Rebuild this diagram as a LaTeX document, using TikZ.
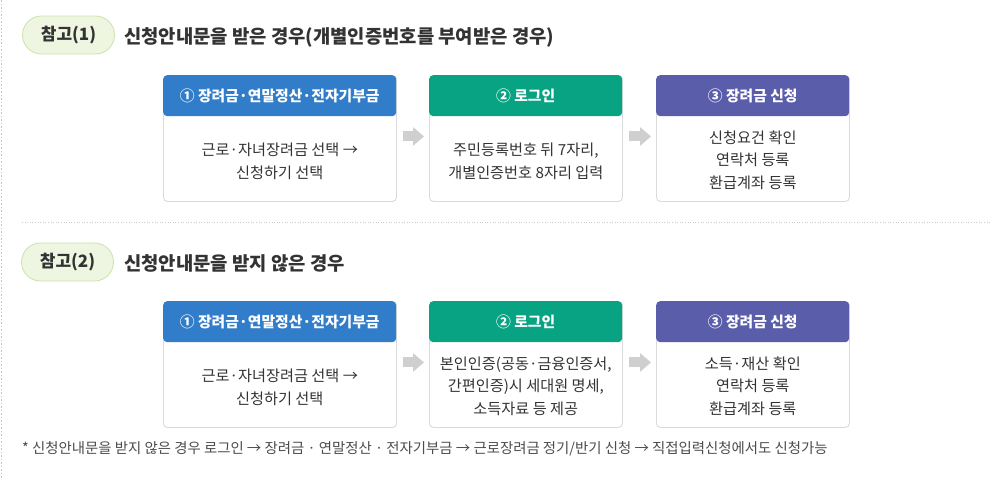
\documentclass[tikz,border=0pt]{standalone}
\usepackage{fontspec}
\setmainfont{Noto Sans CJK KR}
\usetikzlibrary{arrows.meta,calc}
\definecolor{hblue}{HTML}{317DC9}
\definecolor{hgreen}{HTML}{08A382}
\definecolor{hpurple}{HTML}{5A5DAA}
\definecolor{pillfill}{HTML}{EEF6E2}
\definecolor{pillline}{HTML}{CBE3A6}
\definecolor{txt}{HTML}{333333}
\definecolor{frameline}{HTML}{DADADA}
\definecolor{arrowgray}{HTML}{CFCFCF}
\tikzset{
  pill/.style={draw=pillline, fill=pillfill, line width=0.8pt, rounded corners=19pt,
    minimum width=92pt, minimum height=38pt, inner sep=0pt,
    font=\fontsize{17}{17}\selectfont\bfseries, text=txt},
  title/.style={anchor=west, inner sep=0pt, font=\fontsize{18.8}{18.8}\selectfont\bfseries, text=txt},
  frame/.style={draw=frameline, line width=0.9pt, fill=white, rounded corners=4pt,
    minimum height=126pt, inner sep=0pt, anchor=north west},
  header/.style={rounded corners=4pt, minimum height=41pt, inner sep=0pt, anchor=north west,
    text=white, font=\fontsize{14.8}{14.8}\selectfont\bfseries},
  bodytext/.style={align=center, inner sep=0pt, text=txt, font=\fontsize{15.2}{22.8}\selectfont},
  flow/.style={arrowgray, line width=10pt, -{Triangle[length=11pt,width=18pt]}, shorten <=6pt, shorten >=5pt},
}
\begin{document}
\begin{tikzpicture}[x=1pt,y=-1pt]
\useasboundingbox (0,0) rectangle (1001,479);
\fill[white] (0,0) rectangle (1001,479);
% left dashed edge
\draw[gray!45, line width=0.6pt, dash pattern=on 1.5pt off 2pt] (1,0) -- (1,479);
% separator
\draw[gray!40, line width=0.9pt, dash pattern=on 1pt off 1.6pt] (22,222) -- (990,222);

% ---------- section 1 ----------
\node[pill] (p1) at (68.5,35) {참고(1)};
\node[title] (t1) at (124,37) {신청안내문을 받은 경우(개별인증번호를 부여받은 경우)};

\node[frame, minimum width=233pt] (fa1) at (163,75) {};
\node[frame, minimum width=193pt] (fa2) at (429,75) {};
\node[frame, minimum width=193pt] (fa3) at (656,75) {};
\node[header, fill=hblue, minimum width=233pt] (ha1) at (163,75) {① 장려금·연말정산·전자기부금};
\node[header, fill=hgreen, minimum width=193pt] (ha2) at (429,75) {② 로그인};
\node[header, fill=hpurple, minimum width=193pt] (ha3) at (656,75) {③ 장려금 신청};
\node[bodytext] (ba1) at ($(ha1.south)!0.5!(fa1.south)+(0,2)$) {근로·자녀장려금 선택 →\\신청하기 선택};
\node[bodytext] (ba2) at ($(ha2.south)!0.5!(fa2.south)+(0,2)$) {주민등록번호 뒤 7자리,\\개별인증번호 8자리 입력};
\node[bodytext] (ba3) at ($(ha3.south)!0.5!(fa3.south)+(0,1)$) {신청요건 확인\\연락처 등록\\환급계좌 등록};
\draw[flow] ([yshift=2pt]fa1.east) -- ([yshift=2pt]fa2.west);
\draw[flow] ([yshift=2pt]fa2.east) -- ([yshift=2pt]fa3.west);

% ---------- section 2 ----------
\node[pill] (p2) at (67.5,262) {참고(2)};
\node[title] (t2) at (124,263) {신청안내문을 받지 않은 경우};

\node[frame, minimum width=233pt] (fb1) at (163,301) {};
\node[frame, minimum width=193pt] (fb2) at (429,301) {};
\node[frame, minimum width=193pt] (fb3) at (656,301) {};
\node[header, fill=hblue, minimum width=233pt] (hb1) at (163,301) {① 장려금·연말정산·전자기부금};
\node[header, fill=hgreen, minimum width=193pt] (hb2) at (429,301) {② 로그인};
\node[header, fill=hpurple, minimum width=193pt] (hb3) at (656,301) {③ 장려금 신청};
\node[bodytext] (bb1) at ($(hb1.south)!0.5!(fb1.south)+(0,2)$) {근로·자녀장려금 선택 →\\신청하기 선택};
\node[bodytext] (bb2) at ($(hb2.south)!0.5!(fb2.south)+(0,1)$) {본인인증(공동·금융인증서,\\간편인증)시 세대원 명세,\\소득자료 등 제공};
\node[bodytext] (bb3) at ($(hb3.south)!0.5!(fb3.south)+(0,1)$) {소득·재산 확인\\연락처 등록\\환급계좌 등록};
\draw[flow] ([yshift=2pt]fb1.east) -- ([yshift=2pt]fb2.west);
\draw[flow] ([yshift=2pt]fb2.east) -- ([yshift=2pt]fb3.west);

% footnote
\node[anchor=west, inner sep=0pt, text=black!70, font=\fontsize{14.4}{14.4}\selectfont] (note) at (22,449)
  {* 신청안내문을 받지 않은 경우 로그인 → 장려금 · 연말정산 · 전자기부금 → 근로장려금 정기/반기 신청 → 직접입력신청에서도 신청가능};
\end{tikzpicture}
\end{document}
